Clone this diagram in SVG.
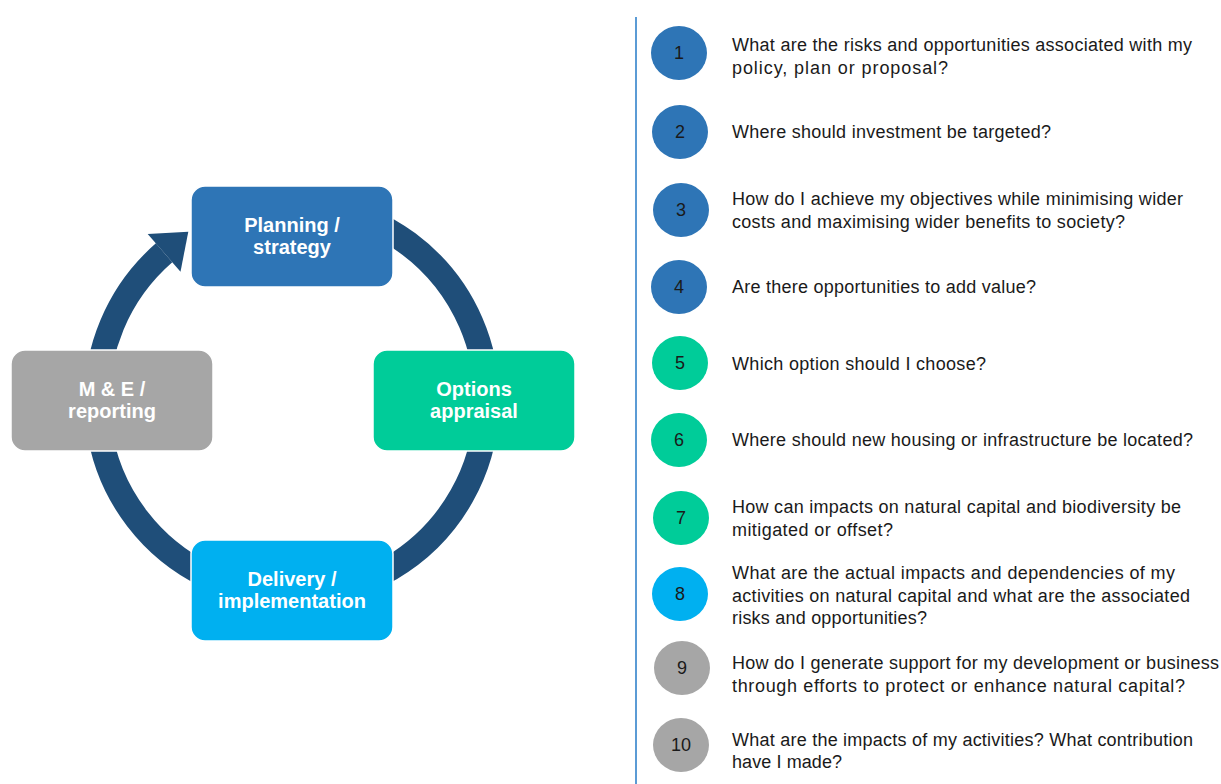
<svg xmlns="http://www.w3.org/2000/svg" width="1221" height="784" viewBox="0 0 1221 784">
<style>
.box{stroke:#ffffff;stroke-width:1.5}
.lbl{font-family:"Liberation Sans",Arial,sans-serif;font-weight:bold;font-size:20px;fill:#ffffff;text-anchor:middle}
.num{font-family:"Liberation Sans",Arial,sans-serif;font-size:18px;fill:#1a1a1a;text-anchor:middle}
.q{font-family:"Liberation Sans",Arial,sans-serif;font-size:18px;fill:#1a1a1a}
.blue{fill:#2E75B6}.green{fill:#00CC99}.cyan{fill:#00B0F0}.grey{fill:#A6A6A6}
</style>
<rect width="1221" height="784" fill="#ffffff"/>
<g id="connectors">
<path d="M 225.3 216.8 A 195 195 0 1 1 164.1 252.8" fill="none" stroke="#1F4E79" stroke-width="25"/>
<polygon points="147.7,234.0 188.3,231.8 180.5,271.7" fill="#1F4E79"/>
</g>
<g id="node-planning"><rect class="box blue" x="191" y="186" width="202" height="101" rx="14"/><text class="lbl" x="292" y="232">Planning /</text><text class="lbl" x="292" y="254">strategy</text></g>
<g id="node-options"><rect class="box green" x="373" y="350" width="202" height="101" rx="14"/><text class="lbl" x="474" y="396">Options</text><text class="lbl" x="474" y="418">appraisal</text></g>
<g id="node-delivery"><rect class="box cyan" x="191" y="540" width="202" height="101" rx="14"/><text class="lbl" x="292" y="586">Delivery /</text><text class="lbl" x="292" y="608">implementation</text></g>
<g id="node-me"><rect class="box grey" x="11" y="350" width="202" height="101" rx="14"/><text class="lbl" x="112" y="396">M &amp; E /</text><text class="lbl" x="112" y="418">reporting</text></g>
<line x1="636" y1="17" x2="636" y2="784" stroke="#5B9BD5" stroke-width="2"/>
<g id="q1"><ellipse class="blue" cx="679" cy="53" rx="28" ry="27"/><text class="num" x="679" y="59">1</text>
<text class="q" x="732" y="51" textLength="460" lengthAdjust="spacing">What are the risks and opportunities associated with my</text>
<text class="q" x="732" y="74" textLength="216" lengthAdjust="spacing">policy, plan or proposal?</text></g>
<g id="q2"><ellipse class="blue" cx="680" cy="132" rx="28" ry="27"/><text class="num" x="680" y="138">2</text>
<text class="q" x="732" y="138" textLength="319" lengthAdjust="spacing">Where should investment be targeted?</text></g>
<g id="q3"><ellipse class="blue" cx="681" cy="210" rx="28" ry="27"/><text class="num" x="681" y="216">3</text>
<text class="q" x="732" y="205" textLength="451" lengthAdjust="spacing">How do I achieve my objectives while minimising wider</text>
<text class="q" x="732" y="228" textLength="393" lengthAdjust="spacing">costs and maximising wider benefits to society?</text></g>
<g id="q4"><ellipse class="blue" cx="679" cy="287" rx="28" ry="27"/><text class="num" x="679" y="293">4</text>
<text class="q" x="732" y="293" textLength="304" lengthAdjust="spacing">Are there opportunities to add value?</text></g>
<g id="q5"><ellipse class="green" cx="680" cy="363" rx="28" ry="27"/><text class="num" x="680" y="369">5</text>
<text class="q" x="732" y="370" textLength="254" lengthAdjust="spacing">Which option should I choose?</text></g>
<g id="q6"><ellipse class="green" cx="679" cy="440" rx="28" ry="27"/><text class="num" x="679" y="446">6</text>
<text class="q" x="732" y="446" textLength="461" lengthAdjust="spacing">Where should new housing or infrastructure be located?</text></g>
<g id="q7"><ellipse class="green" cx="681" cy="518" rx="28" ry="27"/><text class="num" x="681" y="524">7</text>
<text class="q" x="732" y="513" textLength="449" lengthAdjust="spacing">How can impacts on natural capital and biodiversity be</text>
<text class="q" x="732" y="536" textLength="161" lengthAdjust="spacing">mitigated or offset?</text></g>
<g id="q8"><ellipse class="cyan" cx="680" cy="594" rx="28" ry="27"/><text class="num" x="680" y="600">8</text>
<text class="q" x="732" y="579" textLength="443" lengthAdjust="spacing">What are the actual  impacts and dependencies of my</text>
<text class="q" x="732" y="602" textLength="458" lengthAdjust="spacing">activities on natural capital and what are the associated</text>
<text class="q" x="732" y="624" textLength="195" lengthAdjust="spacing">risks and opportunities?</text></g>
<g id="q9"><ellipse class="grey" cx="682" cy="668" rx="28" ry="27"/><text class="num" x="682" y="674">9</text>
<text class="q" x="732" y="669" textLength="487" lengthAdjust="spacing">How do I generate support for my development  or business</text>
<text class="q" x="732" y="692" textLength="453" lengthAdjust="spacing">through efforts to protect or enhance natural capital?</text></g>
<g id="q10"><ellipse class="grey" cx="681" cy="745" rx="28" ry="27"/><text class="num" x="681" y="751">10</text>
<text class="q" x="732" y="746" textLength="461" lengthAdjust="spacing">What are the impacts of my activities? What contribution</text>
<text class="q" x="732" y="768" textLength="110" lengthAdjust="spacing">have I made?</text></g>
</svg>
